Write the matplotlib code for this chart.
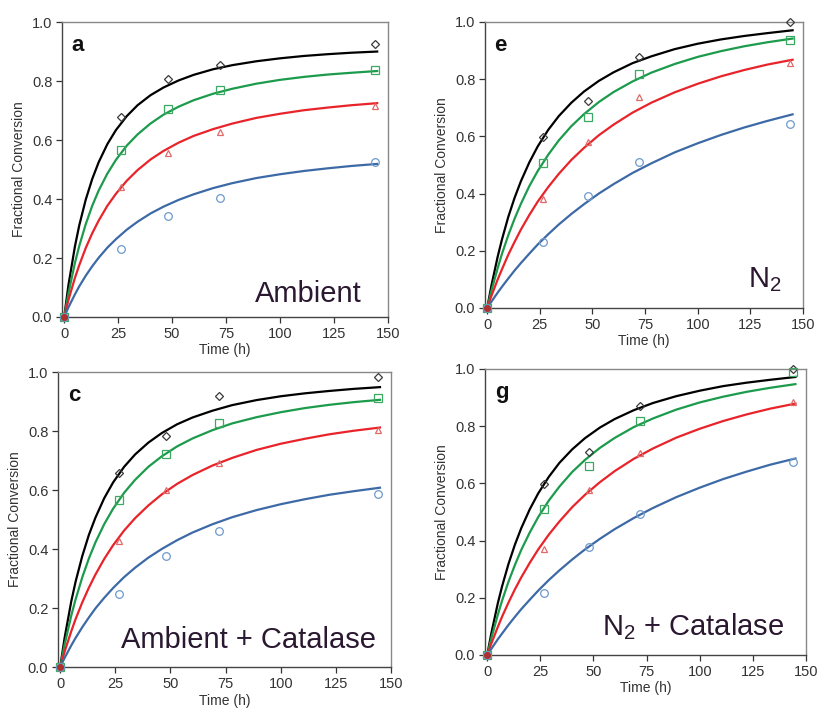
import numpy as np
import matplotlib
matplotlib.use("Agg")
import matplotlib.pyplot as plt

matplotlib.rcParams.update({'font.family': ['Liberation Sans', 'DejaVu Sans'],
                            'mathtext.default': 'regular'})

# sampling times (h)
t_obs = [0, 26.5, 48, 72, 144]
# fitted curves are sampled at these times
t_fit = [0, 2, 5, 7, 10, 13, 16, 20, 24, 29, 34, 40, 46, 53, 60, 69, 78, 89, 100, 111, 122, 133, 145]

# --- panel a: ambient
a_black = [0, 0.679, 0.807, 0.853, 0.925]
a_green = [0, 0.567, 0.704, 0.770, 0.837]
a_red = [0, 0.442, 0.555, 0.626, 0.716]
a_blue = [0, 0.230, 0.343, 0.405, 0.525]
a_black_fit = [0, 0.109, 0.240, 0.311, 0.398, 0.468, 0.525, 0.586, 0.634, 0.681, 0.718, 0.752,
               0.778, 0.802, 0.821, 0.840, 0.854, 0.867, 0.877, 0.885, 0.891, 0.896, 0.900]
a_green_fit = [0, 0.081, 0.184, 0.241, 0.315, 0.377, 0.429, 0.486, 0.533, 0.581, 0.619, 0.656,
               0.686, 0.713, 0.735, 0.757, 0.774, 0.791, 0.804, 0.814, 0.822, 0.828, 0.834]
a_red_fit = [0, 0.058, 0.133, 0.176, 0.234, 0.284, 0.327, 0.377, 0.418, 0.462, 0.498, 0.534,
             0.563, 0.591, 0.614, 0.637, 0.656, 0.675, 0.689, 0.701, 0.710, 0.718, 0.725]
a_blue_fit = [0, 0.033, 0.077, 0.104, 0.140, 0.172, 0.201, 0.235, 0.264, 0.296, 0.323, 0.351,
              0.374, 0.397, 0.416, 0.437, 0.454, 0.471, 0.484, 0.495, 0.504, 0.512, 0.519]

# --- panel e: N2
e_black = [0, 0.597, 0.722, 0.879, 1.0]
e_green = [0, 0.506, 0.669, 0.817, 0.937]
e_red = [0, 0.382, 0.582, 0.738, 0.856]
e_blue = [0, 0.229, 0.390, 0.510, 0.643]
e_black_fit = [0, 0.078, 0.180, 0.239, 0.318, 0.385, 0.443, 0.509, 0.565, 0.623, 0.671, 0.718,
               0.757, 0.794, 0.824, 0.856, 0.880, 0.905, 0.924, 0.939, 0.951, 0.961, 0.971]
e_green_fit = [0, 0.060, 0.140, 0.189, 0.254, 0.312, 0.364, 0.426, 0.479, 0.536, 0.586, 0.636,
               0.678, 0.720, 0.755, 0.792, 0.823, 0.853, 0.878, 0.898, 0.915, 0.929, 0.942]
e_red_fit = [0, 0.042, 0.100, 0.135, 0.186, 0.231, 0.274, 0.325, 0.372, 0.423, 0.469, 0.518,
             0.560, 0.604, 0.641, 0.683, 0.718, 0.754, 0.784, 0.810, 0.832, 0.851, 0.868]
e_blue_fit = [0, 0.022, 0.054, 0.074, 0.103, 0.131, 0.157, 0.190, 0.222, 0.258, 0.292, 0.329,
              0.363, 0.400, 0.433, 0.472, 0.506, 0.544, 0.576, 0.605, 0.631, 0.654, 0.677]

# --- panel c: ambient + catalase
c_black = [0, 0.658, 0.783, 0.919, 0.983]
c_green = [0, 0.567, 0.723, 0.827, 0.912]
c_red = [0, 0.427, 0.599, 0.692, 0.805]
c_blue = [0, 0.246, 0.377, 0.462, 0.588]
c_black_fit = [0, 0.099, 0.222, 0.290, 0.376, 0.448, 0.507, 0.573, 0.626, 0.679, 0.721, 0.761,
               0.793, 0.823, 0.846, 0.869, 0.888, 0.905, 0.918, 0.928, 0.936, 0.943, 0.949]
c_green_fit = [0, 0.076, 0.174, 0.230, 0.304, 0.368, 0.423, 0.485, 0.537, 0.591, 0.635, 0.679,
               0.714, 0.748, 0.775, 0.803, 0.826, 0.847, 0.864, 0.878, 0.889, 0.898, 0.906]
c_red_fit = [0, 0.052, 0.121, 0.163, 0.219, 0.269, 0.314, 0.367, 0.413, 0.463, 0.505, 0.548,
             0.585, 0.621, 0.651, 0.683, 0.709, 0.736, 0.757, 0.774, 0.789, 0.801, 0.812]
c_blue_fit = [0, 0.031, 0.073, 0.099, 0.135, 0.168, 0.199, 0.235, 0.268, 0.305, 0.337, 0.371,
              0.400, 0.430, 0.456, 0.484, 0.508, 0.532, 0.552, 0.569, 0.584, 0.596, 0.608]

# --- panel g: N2 + catalase
g_black = [0, 0.597, 0.709, 0.871, 1.0]
g_green = [0, 0.510, 0.659, 0.818, 0.988]
g_red = [0, 0.369, 0.578, 0.705, 0.886]
g_blue = [0, 0.218, 0.376, 0.494, 0.674]
g_black_fit = [0, 0.078, 0.181, 0.240, 0.318, 0.385, 0.443, 0.509, 0.565, 0.623, 0.672, 0.719,
               0.758, 0.795, 0.825, 0.856, 0.881, 0.905, 0.924, 0.940, 0.952, 0.962, 0.972]
g_green_fit = [0, 0.060, 0.141, 0.190, 0.256, 0.314, 0.367, 0.428, 0.482, 0.540, 0.589, 0.640,
               0.682, 0.724, 0.759, 0.797, 0.827, 0.858, 0.883, 0.903, 0.920, 0.934, 0.947]
g_red_fit = [0, 0.041, 0.098, 0.134, 0.183, 0.229, 0.271, 0.322, 0.369, 0.421, 0.467, 0.517,
             0.560, 0.604, 0.643, 0.686, 0.722, 0.760, 0.791, 0.818, 0.841, 0.861, 0.879]
g_blue_fit = [0, 0.022, 0.055, 0.075, 0.105, 0.133, 0.160, 0.193, 0.225, 0.262, 0.296, 0.334,
              0.369, 0.406, 0.440, 0.479, 0.514, 0.552, 0.585, 0.615, 0.641, 0.665, 0.687]

line_cols = ["#000000", "#1c9b4c", "#e8242a", "#3d6aa6"]
mark_cols = ["#3a3a3a", "#3aa860", "#e06a6a", "#6e9acb"]
markers = ["D", "s", "^", "o"]
msizes = [4.0, 5.5, 5.0, 5.5]

panels = [
    ("a", "Ambient", [0.0758, 0.5529, 0.3985, 0.416], (138, 0.05),
     [a_black, a_green, a_red, a_blue], [a_black_fit, a_green_fit, a_red_fit, a_blue_fit]),
    ("e", "N$_2$", [0.593, 0.5656, 0.3888, 0.4034], (140, 0.073),
     [e_black, e_green, e_red, e_blue], [e_black_fit, e_green_fit, e_red_fit, e_blue_fit]),
    ("c", "Ambient + Catalase", [0.0709, 0.0592, 0.4071, 0.416], (143, 0.063),
     [c_black, c_green, c_red, c_blue], [c_black_fit, c_green_fit, c_red_fit, c_blue_fit]),
    ("g", "N$_2$ + Catalase", [0.593, 0.0762, 0.3924, 0.4034], (140, 0.07),
     [g_black, g_green, g_red, g_blue], [g_black_fit, g_green_fit, g_red_fit, g_blue_fit]),
]

fig = plt.figure(figsize=(8.18, 7.09), dpi=100)
fig.set_facecolor("white")

for letter, cond, pos, txt_xy, obs, fits in panels:
    ax = fig.add_axes(pos)
    for i in range(4):
        ax.plot(t_fit, fits[i], color=line_cols[i], linewidth=1.6, zorder=2,
                solid_joinstyle="round")
        ax.plot(t_obs, obs[i], linestyle="none", marker=markers[i], markersize=msizes[i],
                markerfacecolor="none", markeredgecolor=mark_cols[i], markeredgewidth=0.9,
                clip_on=False, zorder=3)
    ax.plot([0], [0], marker="o", markersize=4, color="#b03030", clip_on=False, zorder=4)

    ax.set_xlim(-1, 150)
    ax.set_ylim(0, 1.0)
    ax.set_xticks([0, 25, 50, 75, 100, 125, 150])
    ax.set_yticks([0, 0.2, 0.4, 0.6, 0.8, 1.0])
    ax.set_yticklabels(["0.0", "0.2", "0.4", "0.6", "0.8", "1.0"])
    ax.tick_params(direction="out", length=4, width=0.9, labelsize=10.5,
                   colors="#333333", pad=3)
    for side in ["left", "bottom"]:
        ax.spines[side].set_color("#444444")
        ax.spines[side].set_linewidth(1.0)
    for side in ["top", "right"]:
        ax.spines[side].set_color("#888888")
        ax.spines[side].set_linewidth(1.0)

    ax.set_xlabel("Time (h)", fontsize=10, color="#333333", labelpad=2)
    ax.set_ylabel("Fractional Conversion", fontsize=10, color="#333333", labelpad=4)

    ax.text(0.03, 0.955, letter, transform=ax.transAxes, fontsize=16, fontweight="bold",
            ha="left", va="top", color="#111111")
    ax.text(txt_xy[0], txt_xy[1], cond, fontsize=21, ha="right", va="baseline",
            color="#2a1830")

fig.savefig("out.png", dpi=100, facecolor=fig.get_facecolor())
